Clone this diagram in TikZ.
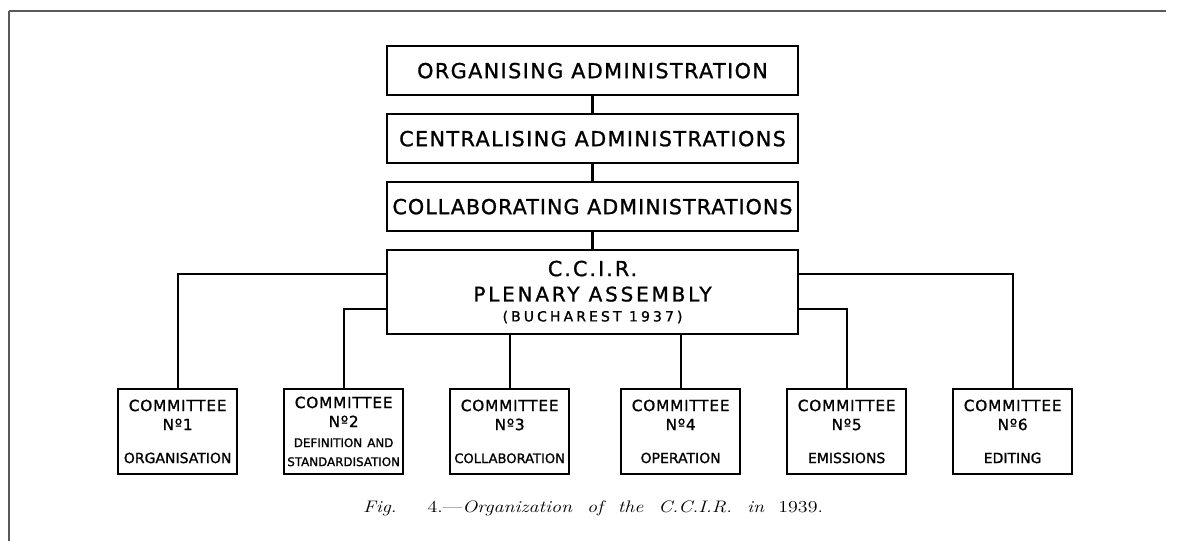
\documentclass[tikz,border=0pt]{standalone}
\usepackage{fontspec}
\usepackage{graphicx}
\usepackage{tikz}
\usetikzlibrary{positioning,calc}
\newfontfamily\letterfont[FakeBold=1.2]{DejaVu Sans}
\newcommand\subj{\fontsize{10.5}{11.5}\selectfont\addfontfeature{LetterSpace=0}}

\begin{document}
\begin{tikzpicture}[
  x=1pt, y=1pt,
  node distance=14pt and 35.25pt,
  admin/.style={draw, line width=1.6pt, outer sep=0pt, minimum width=308pt, minimum height=37pt, inner sep=2pt, font=\letterfont\fontsize{15.5}{18}\selectfont\addfontfeature{LetterSpace=7}},
  plenary/.style={admin, minimum height=63pt, align=center},
  committee/.style={draw, line width=1.6pt, outer sep=0pt, text width=87.25pt, minimum height=63.75pt, inner sep=1pt, align=center, font=\letterfont\fontsize{11.5}{14.25}\selectfont\addfontfeature{LetterSpace=5}},
  link/.style={line width=1.7pt},
  frameline/.style={line width=0.8pt, black!65}
]
\useasboundingbox (0,0) rectangle (884.25,-405.75);

% frame of the page
\draw[frameline] (6.75,-8.25) -- (874.5,-8.25);
\draw[frameline] (6.75,-8.25) -- (6.75,-405.75);

\node[admin] (org) at (444.4,-53) {ORGANISING ADMINISTRATION};
\node[admin, below=of org] (central) {CENTRALISING ADMINISTRATIONS};
\node[admin, below=of central] (collab) {\addfontfeature{LetterSpace=5}COLLABORATING ADMINISTRATIONS};
\node[plenary, below=of collab] (plen) {\addfontfeature{LetterSpace=10}C.C.I.R.\\[1pt]
  {\fontsize{15}{16}\selectfont\addfontfeature{LetterSpace=14}PLENARY ASSEMBLY}\\[-3pt]
  {\fontsize{10.5}{12}\selectfont\addfontfeature{LetterSpace=22}(BUCHAREST 1937)}};

\node[committee] (c1) at (133.25,-323.6) {COMMITTEE\\Nº1\\[10.5pt]\subj ORGANISATION};
\node[committee, right=of c1] (c2) {COMMITTEE\\Nº2\\[4pt]\subj\fontsize{8.9}{11}\selectfont DEFINITION AND\\\subj\fontsize{8.9}{11}\selectfont STANDARDISATION};
\node[committee, right=of c2] (c3) {COMMITTEE\\Nº3\\[10.5pt]\subj\fontsize{9.8}{11.5}\selectfont COLLABORATION};
\node[committee, right=39pt of c3] (c4) {COMMITTEE\\Nº4\\[10.5pt]\subj OPERATION};
\node[committee, right=of c4] (c5) {COMMITTEE\\Nº5\\[10.5pt]\subj EMISSIONS};
\node[committee, right=of c5] (c6) {COMMITTEE\\Nº6\\[10.5pt]\subj EDITING};

\draw[link] (org) -- (central);
\draw[link] (central) -- (collab);
\draw[link] (collab) -- (plen);
\draw[link] ([yshift=-18pt]plen.north west) -| (c1.north);
\draw[link] ([yshift=-44.25pt]plen.north west) -| (c2.north);
\draw[link] (plen.south -| c3.north) -- (c3.north);
\draw[link] (plen.south -| c4.north) -- (c4.north);
\draw[link] ([yshift=-44.25pt]plen.north east) -| (c5.north);
\draw[link] ([yshift=-18pt]plen.north east) -| (c6.north);

\node[inner sep=0pt] (caption) at (444.75,-381)
  {\resizebox{345pt}{8.8pt}{\fontsize{12.6}{15}\selectfont\makebox[290pt][s]{\textit{Fig.} 4.—\textit{Organization of the C.C.I.R. in} 1939.}}};
\end{tikzpicture}
\end{document}
